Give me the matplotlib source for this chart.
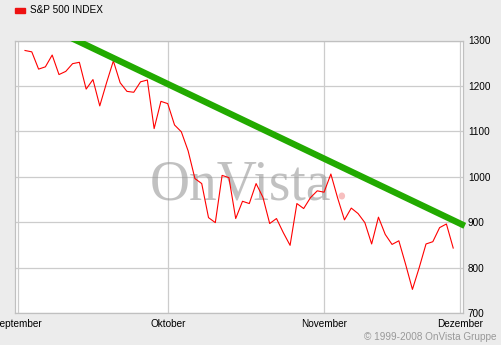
import matplotlib
matplotlib.use("Agg")
import matplotlib.pyplot as plt
import matplotlib.patches as mpatches

# S&P 500 daily closes, 2 Sep 2008 .. 1 Dec 2008 (trading days)
sep = [1278, 1275, 1237, 1242, 1268, 1225, 1232, 1249, 1252, 1193, 1214, 1156,
       1207, 1255, 1207, 1188, 1186, 1209, 1213, 1106, 1166]
okt = [1161, 1114, 1099, 1057, 996, 985, 910, 899, 1003, 998, 908, 946, 941,
       985, 955, 897, 908, 877, 849, 941, 930, 954, 969]
nov = [966, 1006, 953, 905, 931, 919, 899, 852, 911, 873, 851, 859, 807, 752,
       800, 852, 857, 888, 896]
dez = [843]
closes = sep + okt + nov + dez

month_pos = [-1.03, 21.04, 44.0, 64.0]
month_labels = ["September", "Oktober", "November", "Dezember"]
y_ticks = [700, 800, 900, 1000, 1100, 1200, 1300]

# trend line end points (index, value)
trend_x = [6.2, 64.7]
trend_y = [1310, 892]

BG = "#ECECEC"
FONT = "Liberation Sans"

fig = plt.figure(figsize=(5.01, 3.45), dpi=100, facecolor=BG)
ax = fig.add_axes([15 / 501, 32 / 345, 448 / 501, 272.5 / 345])
ax.set_facecolor("white")

x = list(range(len(closes)))
ax.plot(x, closes, color="#FF0000", linewidth=0.8, zorder=4)

trend, = ax.plot(trend_x, trend_y, color="#22AA00", linewidth=4.6,
                 solid_capstyle="butt", zorder=5)
clip = mpatches.Rectangle((0, 0), 1.02, 1, transform=ax.transAxes)
trend.set_clip_path(clip)

ax.set_xlim(-1.47, 64.44)
ax.set_ylim(700, 1300)
ax.set_xticks(month_pos)
ax.set_xticklabels(month_labels, fontfamily=FONT, fontsize=7.2)
ax.set_yticks(y_ticks)
ax.set_yticklabels([str(v) for v in y_ticks], fontfamily=FONT, fontsize=7.2)
ax.yaxis.tick_right()
ax.tick_params(axis="x", length=0, pad=4.5)
ax.tick_params(axis="y", length=0, pad=3.6)
ax.grid(True, color="#CCCCCC", linewidth=0.9, zorder=1)
ax.set_axisbelow(True)
for s in ax.spines.values():
    s.set_color("#C0C0C0")
    s.set_linewidth(0.9)

# watermark
ax.text(0.301, 0.415, "OnVista", transform=ax.transAxes, fontfamily="Liberation Serif",
        fontsize=40, color="#999999", alpha=0.6, ha="left", va="baseline", zorder=2)
ax.text(0.712, 0.415, ".", transform=ax.transAxes, fontfamily="Liberation Serif",
        fontsize=40, color="#F08080", alpha=0.5, ha="left", va="baseline", zorder=2)

# legend
fig.patches.append(mpatches.Rectangle((15 / 501, 1 - 13 / 345), 10 / 501, 5.5 / 345,
                                      transform=fig.transFigure, color="#EE1111"))
fig.text(30 / 501, 1 - 10 / 345, "S&P 500 INDEX", fontfamily=FONT, fontsize=7.2,
         va="center", ha="left")

fig.text(497 / 501, 1 - 337 / 345, "\u00a9 1999-2008 OnVista Gruppe", fontfamily=FONT,
         fontsize=7.2, color="#999999", va="center", ha="right")

fig.savefig("out.png", dpi=100, facecolor=BG)
